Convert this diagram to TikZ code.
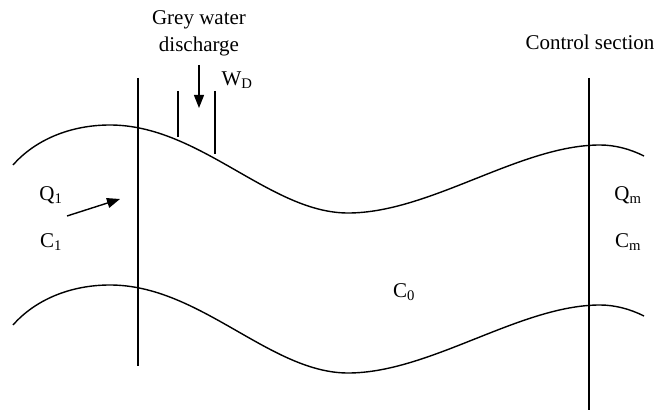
\documentclass[tikz,border=0pt]{standalone}
\usepackage{fontspec}
\setmainfont{Liberation Serif}
\usetikzlibrary{arrows.meta}
\tikzset{
  bank/.style={line width=1.4pt},
  cut/.style={line width=1.4pt},
  flow/.style={line width=1.4pt, -{Triangle[length=13pt,width=10pt]}},
  txt/.style={inner sep=0pt, font=\fontsize{21}{25}\selectfont},
}
\begin{document}
\begin{tikzpicture}[x=1pt, y=-1pt]
    \useasboundingbox (0,0) rectangle (670,414);
    % river banks
    \foreach \dy in {0,160}
        \draw[bank, yshift=-\dy pt] (13,165) .. controls (35,140) and (70,125) .. (110,125)
            .. controls (200,125) and (270,213) .. (348,213)
            .. controls (430,213) and (520,145) .. (600,145)
            .. controls (615,145) and (630,149) .. (644,156);
    % sections
    \coordinate (inTop) at (138,78);
    \coordinate (inBot) at (138,366);
    \coordinate (ctTop) at (589,78);
    \coordinate (ctBot) at (589,410);
    \draw[cut] (inTop) -- (inBot);
    \draw[cut] (ctTop) -- (ctBot);
    % outfall
    \coordinate (pLtop) at (178,91);
    \coordinate (pLbot) at (178,137);
    \coordinate (pRtop) at (215,91);
    \coordinate (pRbot) at (215,154);
    \draw[cut] (pLtop) -- (pLbot);
    \draw[cut] (pRtop) -- (pRbot);
    \node[txt] (grey) at (199,20) {Grey water};
    \node[txt] (dis) at (199,46) {discharge};
    \node[txt] (WD) at (237,80) {W\textsubscript{D}};
    \coordinate (wdIn) at (199,65);
    \coordinate (wdOut) at (199,108);
    \draw[flow] (wdIn) -- (wdOut);
    % inflow
    \node[txt] (Q1) at (51,195) {Q\textsubscript{1}};
    \node[txt] (C1) at (51,242) {C\textsubscript{1}};
    \coordinate (qIn) at (67,216);
    \coordinate (qOut) at (120,199);
    \draw[flow] (qIn) -- (qOut);
    % control section
    \node[txt] (ctrl) at (590,42) {Control section};
    \node[txt] (Qm) at (628,195) {Q\textsubscript{m}};
    \node[txt] (Cm) at (628,242) {C\textsubscript{m}};
    \node[txt] (C0) at (404,292) {C\textsubscript{0}};
\end{tikzpicture}
\end{document}
